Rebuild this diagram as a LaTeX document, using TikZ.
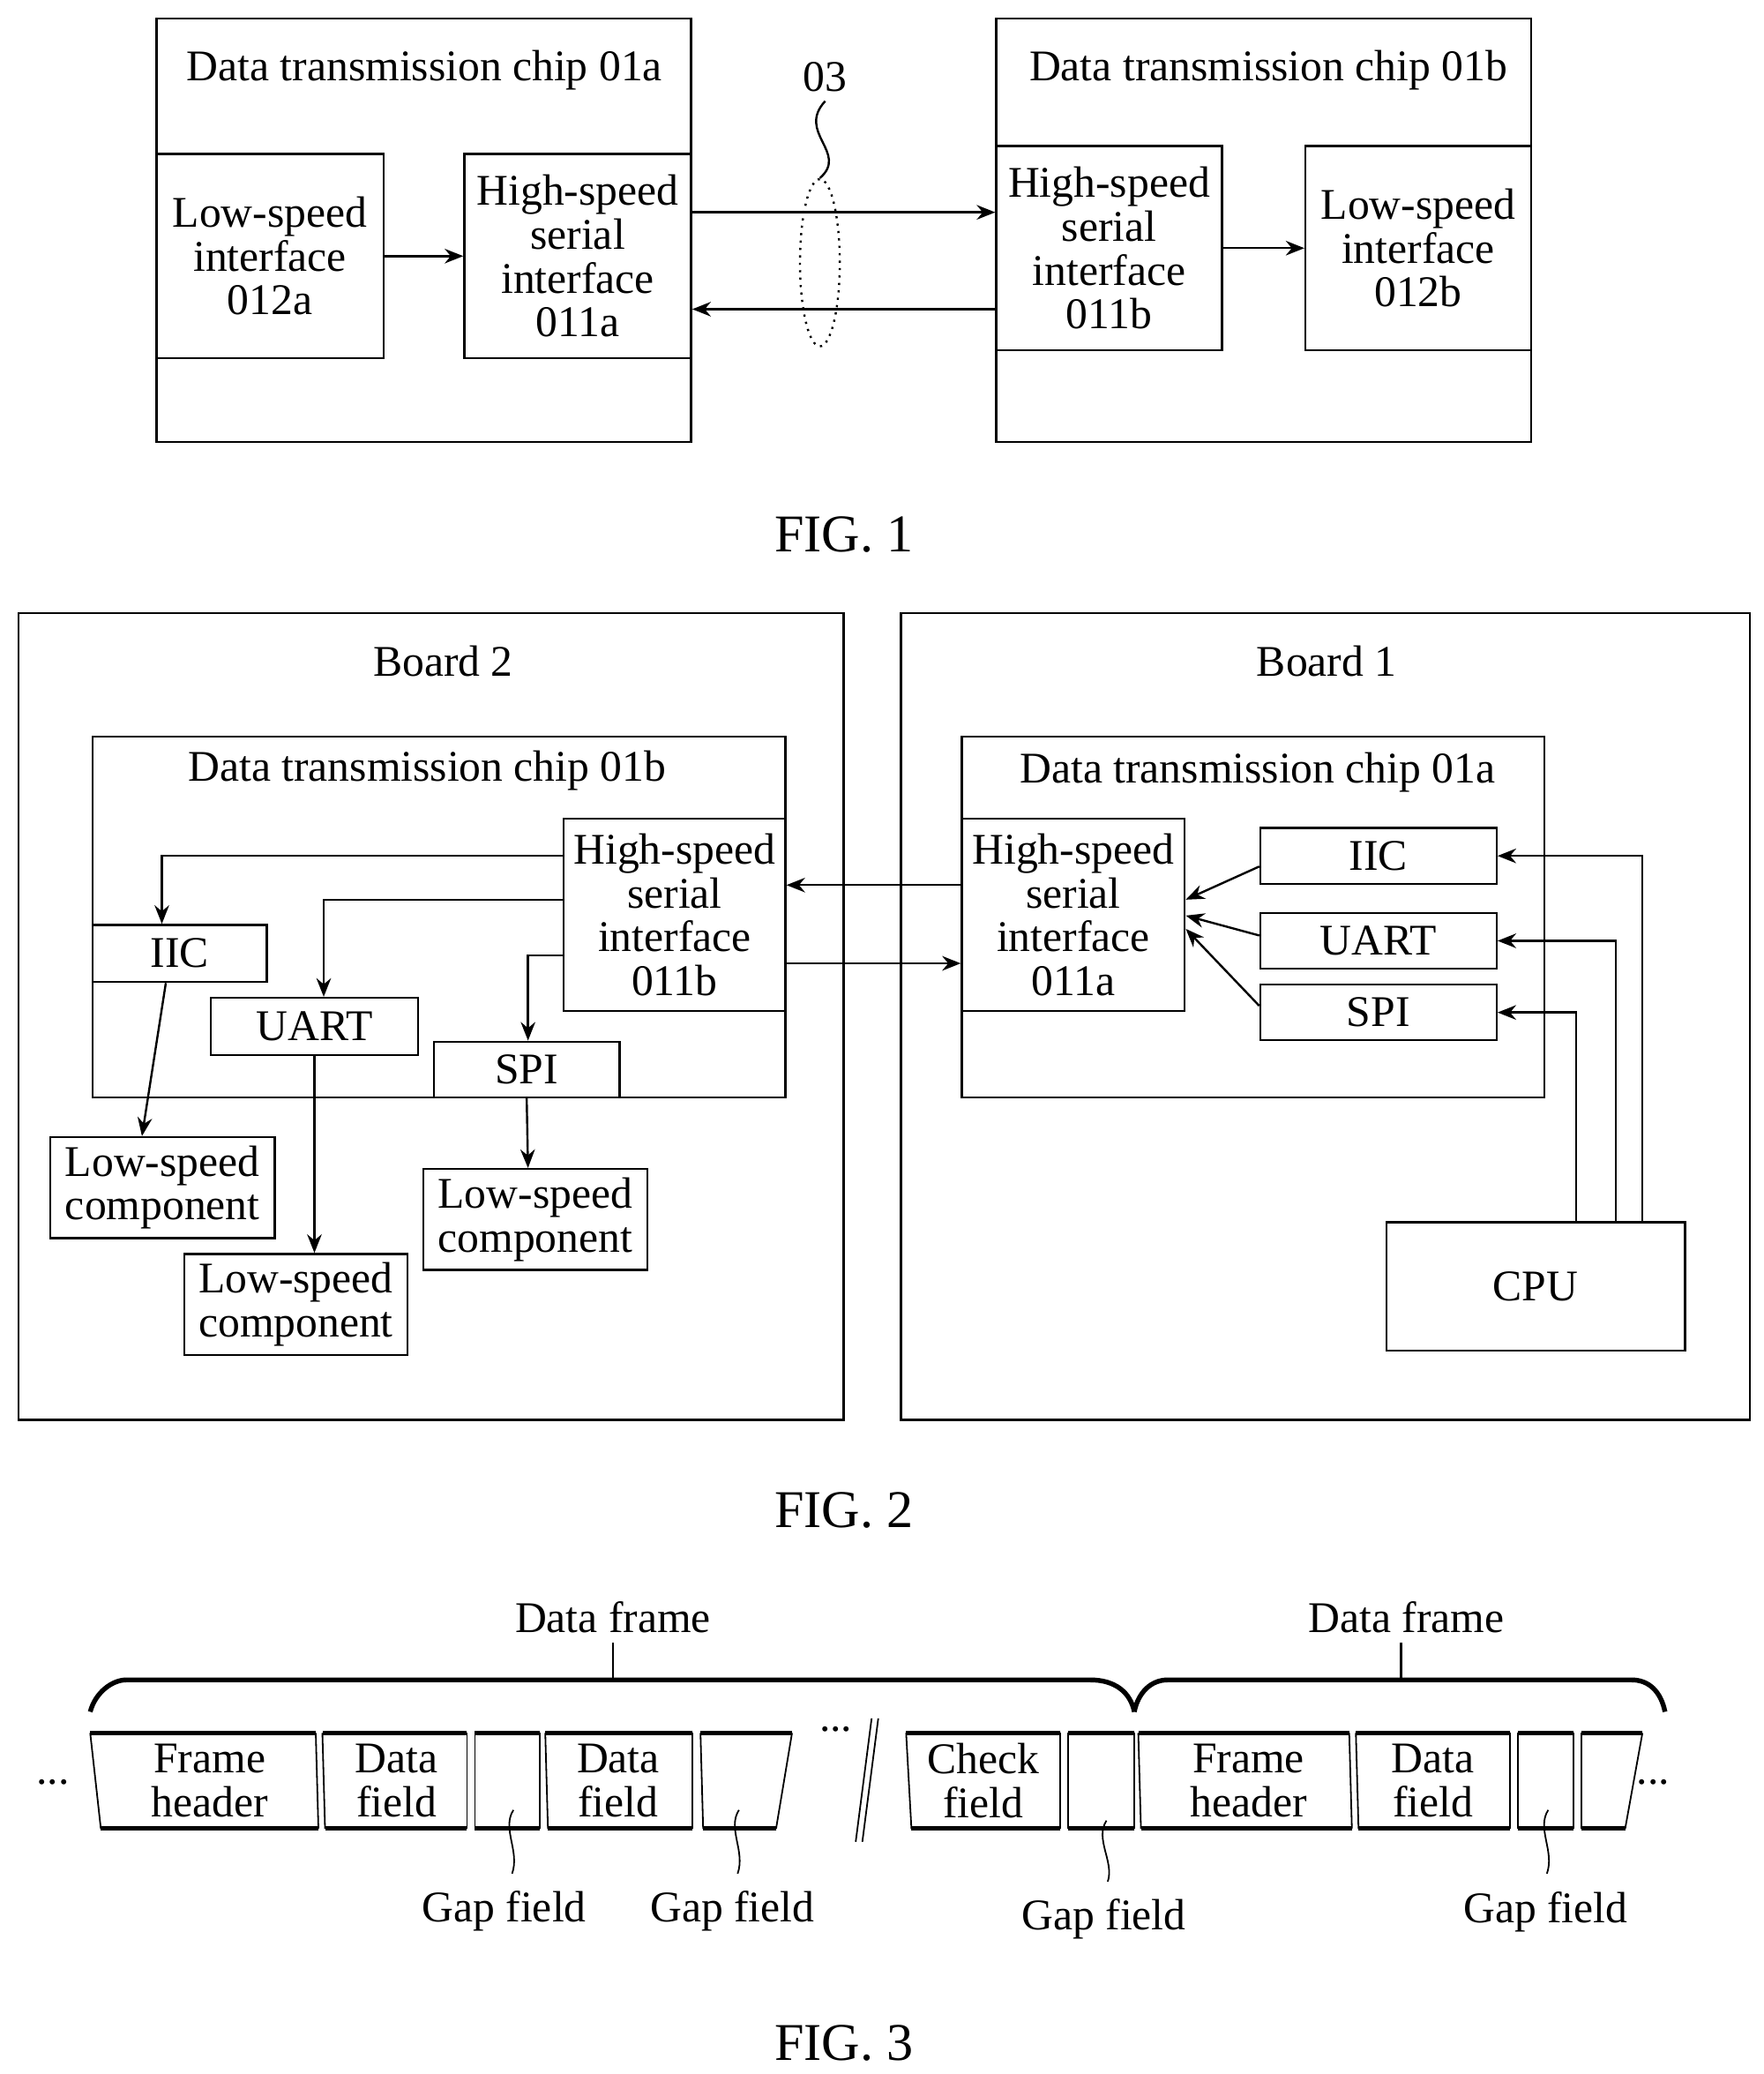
\documentclass[tikz,border=0pt]{standalone}
\usepackage{fontspec}
\setmainfont{Liberation Serif}
\usetikzlibrary{arrows.meta,shapes.geometric}
\begin{document}
\begin{tikzpicture}[x=0.5pt,y=-0.5pt,
  every node/.style={font=\fontsize{16.5}{16.5}\selectfont, align=center},
  box/.style={draw, line width=0.8pt, inner sep=0pt},
  ln/.style={line width=0.8pt},
  arr/.style={line width=0.8pt, -{Stealth[length=7pt,width=5.5pt]}},
  seg/.style={line width=0.6pt},
  thick3/.style={line width=1.8pt},
  lbl/.style={font=\fontsize{20}{20}\selectfont}]
\useasboundingbox (0,0) rectangle (1329,1563);
% ---------------- FIG 1
\node[box,minimum width=201.5pt,minimum height=159.5pt] (c1a) at (319.5,173.5) {};
\node (t1a) at (320,53) {Data transmission chip 01a};
\node[box,minimum width=85.5pt,minimum height=77pt] (ls012a) at (203.5,193) {Low-speed\\interface\\012a};
\node[box,minimum width=85.5pt,minimum height=77pt] (hs011a) at (435.5,193) {High-speed\\serial\\interface\\011a};
\node[box,minimum width=201.5pt,minimum height=159.5pt] (c1b) at (952.5,173.5) {};
\node (t1b) at (956,53) {Data transmission chip 01b};
\node[box,minimum width=85pt,minimum height=77pt] (hs011b) at (836,187) {High-speed\\serial\\interface\\011b};
\node[box,minimum width=85pt,minimum height=77pt] (ls012b) at (1069,187) {Low-speed\\interface\\012b};
\draw[arr] (ls012a.east) -- (hs011a.west);
\draw[arr] (hs011b.east) -- (ls012b.west);
\draw[arr] (hs011a.east |- 0,160) -- (hs011b.west |- 0,160);
\draw[arr] (hs011b.west |- 0,233) -- (hs011a.east |- 0,233);
\node[draw,dotted,line width=0.8pt,ellipse,minimum width=15pt,minimum height=63pt,inner sep=0pt] (e03) at (618,198) {};
\node (l03) at (622,58) {03};
\draw[ln] (l03.south) .. controls (600,100) and (640,115) .. (e03.north);
\node[lbl] (fig1) at (636,403) {FIG. 1};
% ---------------- FIG 2
\node[box,minimum width=311pt,minimum height=304pt] (b2) at (325,766) {};
\node (tb2) at (334,498) {Board 2};
\node[box,minimum width=261pt,minimum height=136pt] (c2b) at (331,691) {};
\node (tc2b) at (322,581) {Data transmission chip 01b};
\node[box,minimum width=83.5pt,minimum height=72.5pt] (hsb) at (508.5,689.5) {High-speed\\serial\\interface\\011b};
\node[box,minimum width=65.5pt,minimum height=21.5pt] (iicb) at (135.5,718.5) {IIC};
\node[box,minimum width=78pt,minimum height=21.5pt] (uartb) at (237,773.5) {UART};
\node[box,minimum width=70pt,minimum height=21pt] (spib) at (397,806) {SPI};
\node[box,minimum width=84.5pt,minimum height=38pt] (lc1) at (122.5,895) {Low-speed\\component};
\node[box,minimum width=84pt,minimum height=38pt] (lc2) at (223,983) {Low-speed\\component};
\node[box,minimum width=84.5pt,minimum height=38pt] (lc3) at (403.5,919) {Low-speed\\component};
\draw[arr] (hsb.west |- 0,645) -| (iicb.north -| 122,0);
\draw[arr] (hsb.west |- 0,678) -| (uartb.north -| 244,0);
\draw[arr] (hsb.west |- 0,720) -| (spib.north -| 398,0);
\draw[arr] (iicb.south -| 125,0) -- (lc1.north -| 107,0);
\draw[arr] (uartb.south -| 237,0) -- (lc2.north -| 237,0);
\draw[arr] (spib.south) -- (lc3.north -| 398,0);
\node[box,minimum width=320pt,minimum height=304pt] (b1) at (999,766) {};
\node (tb1) at (1000,498) {Board 1};
\node[box,minimum width=219.5pt,minimum height=136pt] (c2a) at (944.5,691) {};
\node (tc2a) at (948,582) {Data transmission chip 01a};
\node[box,minimum width=84pt,minimum height=72.5pt] (hsa) at (809,689.5) {High-speed\\serial\\interface\\011a};
\node[box,minimum width=89pt,minimum height=21pt] (iica) at (1039,645) {IIC};
\node[box,minimum width=89pt,minimum height=21pt] (uarta) at (1039,709) {UART};
\node[box,minimum width=89pt,minimum height=21pt] (spia) at (1039,763) {SPI};
\node[box,minimum width=112.5pt,minimum height=48.5pt] (cpu) at (1157.5,969.5) {CPU};
\draw[arr] (iica.west |- 0,653) -- (hsa.east |- 0,678);
\draw[arr] (uarta.west |- 0,705) -- (hsa.east |- 0,690);
\draw[arr] (spia.west |- 0,758) -- (hsa.east |- 0,700);
\draw[arr] (cpu.north -| 1238,0) |- (iica.east);
\draw[arr] (cpu.north -| 1218,0) |- (uarta.east);
\draw[arr] (cpu.north -| 1188,0) |- (spia.east);
\draw[arr] (hsa.west |- 0,667) -- (hsb.east |- 0,667);
\draw[arr] (hsb.east |- 0,726) -- (hsa.west |- 0,726);
\node[lbl] (fig2) at (636,1138) {FIG. 2};
% ---------------- FIG 3
\def\segm#1#2#3#4{% x top-left, x bottom-left, x top-right, x bottom-right
  \draw[seg] (#1,1306) -- (#2,1378); \draw[seg] (#3,1306) -- (#4,1378);
  \draw[thick3] (#1,1306) -- (#3,1306); \draw[thick3] (#2,1378) -- (#4,1378);}
\segm{68}{76}{238}{240}
\segm{243}{245}{352}{352}
\segm{358}{358}{407}{407}
\segm{411}{413}{522}{522}
\segm{528}{530}{597}{585}
\segm{683}{687}{799}{799}
\segm{805}{805}{855}{855}
\segm{858}{860}{1017}{1019}
\segm{1022}{1024}{1138}{1138}
\segm{1144}{1144}{1186}{1186}
\segm{1192}{1192}{1238}{1225}
\node (fh1) at (158,1342) {Frame\\header};
\node (df1) at (299,1342) {Data\\field};
\node (df2) at (466,1342) {Data\\field};
\node (cf) at (741,1342) {Check\\field};
\node (fh2) at (941,1342) {Frame\\header};
\node (df3) at (1080,1342) {Data\\field};
\node (d1) at (40,1343) {...};
\node (d2) at (630,1303) {...};
\node (d3) at (1246,1343) {...};
\draw[seg] (657,1295) -- (645,1388);
\draw[seg] (662,1295) -- (650,1388);
% braces
\draw[thick3] (68,1290) .. controls (72,1275) and (85,1266) .. (95,1266) -- (822,1266) .. controls (840,1266) and (852,1275) .. (855,1290);
\draw[thick3] (855,1290) .. controls (858,1275) and (868,1266) .. (880,1266) -- (1230,1266) .. controls (1243,1266) and (1252,1275) .. (1255,1290);
\node (dfr1) at (462,1219) {Data frame};
\node (dfr2) at (1060,1219) {Data frame};
\draw[ln] (dfr1.south) -- (462,1266);
\draw[ln] (dfr2.south -| 1056,0) -- (1056,1266);
% gap labels
\node (g1) at (380,1440) {Gap field};
\node (g2) at (552,1440) {Gap field};
\node (g3) at (832,1446) {Gap field};
\node (g4) at (1165,1441) {Gap field};
\draw[seg] (387,1364) .. controls (378,1378) and (392,1395) .. (386,1412);
\draw[seg] (557,1364) .. controls (548,1378) and (562,1395) .. (556,1412);
\draw[seg] (834,1372) .. controls (825,1386) and (840,1403) .. (835,1418);
\draw[seg] (1167,1364) .. controls (1158,1378) and (1172,1395) .. (1166,1412);
\node[lbl] (fig3) at (636,1540) {FIG. 3};
\end{tikzpicture}
\end{document}
